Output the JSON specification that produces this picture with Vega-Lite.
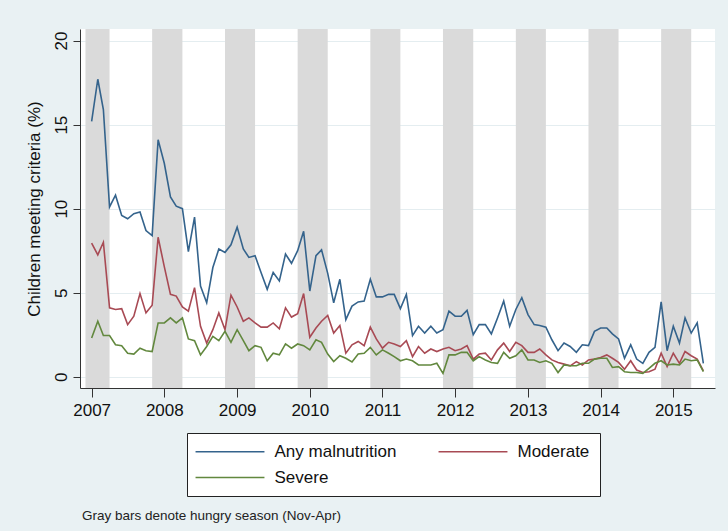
{
  "$schema": "https://vega.github.io/schema/vega-lite/v6.json",
  "width": 635,
  "height": 359,
  "autosize": {"type": "none"},
  "padding": {"left": 80, "top": 29, "right": 13, "bottom": 143},
  "background": "#e9f1f3",
  "config": {
    "font": "Liberation Sans",
    "view": {"fill": "white", "stroke": null},
    "axis": {"domainColor": "#333333", "tickColor": "#333333", "labelColor": "#111111", "titleColor": "#111111", "labelFontSize": 17, "titleFontSize": 17, "titleFontWeight": "normal"}
  },
  "title": {"text": "Gray bars denote hungry season (Nov-Apr)", "orient": "bottom", "anchor": "start", "frame": "group", "fontSize": 13.5, "fontWeight": "normal", "color": "#222222", "offset": 12, "dx": 2},
  "datasets": {
    "hungry": [
      {"start": "2006-12-01", "end": "2007-04-01"},
      {"start": "2007-11-01", "end": "2008-04-01"},
      {"start": "2008-11-01", "end": "2009-04-01"},
      {"start": "2009-11-01", "end": "2010-04-01"},
      {"start": "2010-11-01", "end": "2011-04-01"},
      {"start": "2011-11-01", "end": "2012-04-01"},
      {"start": "2012-11-01", "end": "2013-04-01"},
      {"start": "2013-11-01", "end": "2014-04-01"},
      {"start": "2014-11-01", "end": "2015-04-01"}
    ],
    "series": [
      {"month": "2007-01-01", "Any malnutrition": 15.2, "Moderate": 7.95, "Severe": 2.3},
      {"month": "2007-02-01", "Any malnutrition": 17.7, "Moderate": 7.25, "Severe": 3.3},
      {"month": "2007-03-01", "Any malnutrition": 15.9, "Moderate": 8.0, "Severe": 2.45},
      {"month": "2007-04-01", "Any malnutrition": 10.1, "Moderate": 4.1, "Severe": 2.45},
      {"month": "2007-05-01", "Any malnutrition": 10.8, "Moderate": 4.0, "Severe": 1.9},
      {"month": "2007-06-01", "Any malnutrition": 9.6, "Moderate": 4.05, "Severe": 1.85},
      {"month": "2007-07-01", "Any malnutrition": 9.4, "Moderate": 3.1, "Severe": 1.4},
      {"month": "2007-08-01", "Any malnutrition": 9.7, "Moderate": 3.6, "Severe": 1.35},
      {"month": "2007-09-01", "Any malnutrition": 9.8, "Moderate": 4.95, "Severe": 1.7},
      {"month": "2007-10-01", "Any malnutrition": 8.7, "Moderate": 3.8, "Severe": 1.55},
      {"month": "2007-11-01", "Any malnutrition": 8.4, "Moderate": 4.25, "Severe": 1.5},
      {"month": "2007-12-01", "Any malnutrition": 14.1, "Moderate": 8.3, "Severe": 3.2},
      {"month": "2008-01-01", "Any malnutrition": 12.7, "Moderate": 6.55, "Severe": 3.2},
      {"month": "2008-02-01", "Any malnutrition": 10.7, "Moderate": 4.9, "Severe": 3.5},
      {"month": "2008-03-01", "Any malnutrition": 10.15, "Moderate": 4.8, "Severe": 3.2},
      {"month": "2008-04-01", "Any malnutrition": 10.0, "Moderate": 4.15, "Severe": 3.5},
      {"month": "2008-05-01", "Any malnutrition": 7.45, "Moderate": 3.9, "Severe": 2.25},
      {"month": "2008-06-01", "Any malnutrition": 9.5, "Moderate": 5.3, "Severe": 2.15},
      {"month": "2008-07-01", "Any malnutrition": 5.4, "Moderate": 3.0, "Severe": 1.3},
      {"month": "2008-08-01", "Any malnutrition": 4.4, "Moderate": 2.0, "Severe": 1.8},
      {"month": "2008-09-01", "Any malnutrition": 6.5, "Moderate": 2.8, "Severe": 2.4},
      {"month": "2008-10-01", "Any malnutrition": 7.6, "Moderate": 3.8, "Severe": 2.15},
      {"month": "2008-11-01", "Any malnutrition": 7.4, "Moderate": 2.8, "Severe": 2.7},
      {"month": "2008-12-01", "Any malnutrition": 7.85, "Moderate": 4.85, "Severe": 2.05},
      {"month": "2009-01-01", "Any malnutrition": 8.9, "Moderate": 4.15, "Severe": 2.8},
      {"month": "2009-02-01", "Any malnutrition": 7.6, "Moderate": 3.3, "Severe": 2.15},
      {"month": "2009-03-01", "Any malnutrition": 7.1, "Moderate": 3.5, "Severe": 1.55},
      {"month": "2009-04-01", "Any malnutrition": 7.2, "Moderate": 3.2, "Severe": 1.85},
      {"month": "2009-05-01", "Any malnutrition": 6.2, "Moderate": 2.95, "Severe": 1.75},
      {"month": "2009-06-01", "Any malnutrition": 5.2, "Moderate": 2.95, "Severe": 0.95},
      {"month": "2009-07-01", "Any malnutrition": 6.2, "Moderate": 3.2, "Severe": 1.4},
      {"month": "2009-08-01", "Any malnutrition": 5.7, "Moderate": 2.85, "Severe": 1.3},
      {"month": "2009-09-01", "Any malnutrition": 7.3, "Moderate": 4.1, "Severe": 1.95},
      {"month": "2009-10-01", "Any malnutrition": 6.75, "Moderate": 3.55, "Severe": 1.7},
      {"month": "2009-11-01", "Any malnutrition": 7.5, "Moderate": 3.75, "Severe": 1.95},
      {"month": "2009-12-01", "Any malnutrition": 8.65, "Moderate": 4.95, "Severe": 1.85},
      {"month": "2010-01-01", "Any malnutrition": 5.1, "Moderate": 2.35, "Severe": 1.6},
      {"month": "2010-02-01", "Any malnutrition": 7.2, "Moderate": 2.9, "Severe": 2.2},
      {"month": "2010-03-01", "Any malnutrition": 7.55, "Moderate": 3.3, "Severe": 2.05},
      {"month": "2010-04-01", "Any malnutrition": 6.15, "Moderate": 3.65, "Severe": 1.35},
      {"month": "2010-05-01", "Any malnutrition": 4.4, "Moderate": 2.6, "Severe": 0.9},
      {"month": "2010-06-01", "Any malnutrition": 5.8, "Moderate": 3.05, "Severe": 1.25},
      {"month": "2010-07-01", "Any malnutrition": 3.4, "Moderate": 1.4, "Severe": 1.1},
      {"month": "2010-08-01", "Any malnutrition": 4.2, "Moderate": 1.9, "Severe": 0.88},
      {"month": "2010-09-01", "Any malnutrition": 4.45, "Moderate": 2.1, "Severe": 1.35},
      {"month": "2010-10-01", "Any malnutrition": 4.5, "Moderate": 1.85, "Severe": 1.4},
      {"month": "2010-11-01", "Any malnutrition": 5.8, "Moderate": 2.95, "Severe": 1.75},
      {"month": "2010-12-01", "Any malnutrition": 4.75, "Moderate": 2.25, "Severe": 1.3},
      {"month": "2011-01-01", "Any malnutrition": 4.75, "Moderate": 1.7, "Severe": 1.6},
      {"month": "2011-02-01", "Any malnutrition": 4.9, "Moderate": 2.05, "Severe": 1.4},
      {"month": "2011-03-01", "Any malnutrition": 4.9, "Moderate": 1.95, "Severe": 1.2},
      {"month": "2011-04-01", "Any malnutrition": 4.05, "Moderate": 1.8, "Severe": 0.95},
      {"month": "2011-05-01", "Any malnutrition": 4.9, "Moderate": 2.15, "Severe": 1.05},
      {"month": "2011-06-01", "Any malnutrition": 2.45, "Moderate": 1.2, "Severe": 0.95},
      {"month": "2011-07-01", "Any malnutrition": 3.0, "Moderate": 1.8, "Severe": 0.7},
      {"month": "2011-08-01", "Any malnutrition": 2.6, "Moderate": 1.4, "Severe": 0.7},
      {"month": "2011-09-01", "Any malnutrition": 3.0, "Moderate": 1.65, "Severe": 0.7},
      {"month": "2011-10-01", "Any malnutrition": 2.6, "Moderate": 1.5, "Severe": 0.8},
      {"month": "2011-11-01", "Any malnutrition": 2.8, "Moderate": 1.65, "Severe": 0.2},
      {"month": "2011-12-01", "Any malnutrition": 3.9, "Moderate": 1.75, "Severe": 1.3},
      {"month": "2012-01-01", "Any malnutrition": 3.6, "Moderate": 1.55, "Severe": 1.3},
      {"month": "2012-02-01", "Any malnutrition": 3.6, "Moderate": 1.65, "Severe": 1.45},
      {"month": "2012-03-01", "Any malnutrition": 3.95, "Moderate": 1.85, "Severe": 1.45},
      {"month": "2012-04-01", "Any malnutrition": 2.5, "Moderate": 1.05, "Severe": 0.95},
      {"month": "2012-05-01", "Any malnutrition": 3.1, "Moderate": 1.35, "Severe": 1.2},
      {"month": "2012-06-01", "Any malnutrition": 3.1, "Moderate": 1.4, "Severe": 1.0},
      {"month": "2012-07-01", "Any malnutrition": 2.55, "Moderate": 1.0, "Severe": 0.85},
      {"month": "2012-08-01", "Any malnutrition": 3.5, "Moderate": 1.6, "Severe": 0.8},
      {"month": "2012-09-01", "Any malnutrition": 4.5, "Moderate": 2.0, "Severe": 1.45},
      {"month": "2012-10-01", "Any malnutrition": 3.0, "Moderate": 1.5, "Severe": 1.1},
      {"month": "2012-11-01", "Any malnutrition": 4.0, "Moderate": 2.05, "Severe": 1.25},
      {"month": "2012-12-01", "Any malnutrition": 4.7, "Moderate": 1.85, "Severe": 1.6},
      {"month": "2013-01-01", "Any malnutrition": 3.7, "Moderate": 1.45, "Severe": 1.0},
      {"month": "2013-02-01", "Any malnutrition": 3.1, "Moderate": 1.45, "Severe": 1.0},
      {"month": "2013-03-01", "Any malnutrition": 3.05, "Moderate": 1.65, "Severe": 0.85},
      {"month": "2013-04-01", "Any malnutrition": 2.95, "Moderate": 1.3, "Severe": 0.95},
      {"month": "2013-05-01", "Any malnutrition": 2.2, "Moderate": 1.0, "Severe": 0.8},
      {"month": "2013-06-01", "Any malnutrition": 1.55, "Moderate": 0.85, "Severe": 0.25},
      {"month": "2013-07-01", "Any malnutrition": 2.0, "Moderate": 0.75, "Severe": 0.7},
      {"month": "2013-08-01", "Any malnutrition": 1.8, "Moderate": 0.65, "Severe": 0.65},
      {"month": "2013-09-01", "Any malnutrition": 1.45, "Moderate": 0.9, "Severe": 0.65},
      {"month": "2013-10-01", "Any malnutrition": 1.9, "Moderate": 0.7, "Severe": 0.8},
      {"month": "2013-11-01", "Any malnutrition": 1.85, "Moderate": 1.0, "Severe": 0.8},
      {"month": "2013-12-01", "Any malnutrition": 2.7, "Moderate": 1.05, "Severe": 1.05},
      {"month": "2014-01-01", "Any malnutrition": 2.9, "Moderate": 1.15, "Severe": 1.1},
      {"month": "2014-02-01", "Any malnutrition": 2.9, "Moderate": 1.3, "Severe": 1.1},
      {"month": "2014-03-01", "Any malnutrition": 2.55, "Moderate": 1.1, "Severe": 0.55},
      {"month": "2014-04-01", "Any malnutrition": 2.25, "Moderate": 0.85, "Severe": 0.6},
      {"month": "2014-05-01", "Any malnutrition": 1.1, "Moderate": 0.45, "Severe": 0.3},
      {"month": "2014-06-01", "Any malnutrition": 1.9, "Moderate": 0.95, "Severe": 0.25},
      {"month": "2014-07-01", "Any malnutrition": 1.05, "Moderate": 0.4, "Severe": 0.25},
      {"month": "2014-08-01", "Any malnutrition": 0.8, "Moderate": 0.25, "Severe": 0.2},
      {"month": "2014-09-01", "Any malnutrition": 1.45, "Moderate": 0.3, "Severe": 0.5},
      {"month": "2014-10-01", "Any malnutrition": 1.75, "Moderate": 0.45, "Severe": 0.8},
      {"month": "2014-11-01", "Any malnutrition": 4.45, "Moderate": 1.4, "Severe": 0.95},
      {"month": "2014-12-01", "Any malnutrition": 1.55, "Moderate": 0.6, "Severe": 0.7},
      {"month": "2015-01-01", "Any malnutrition": 3.0, "Moderate": 1.4, "Severe": 0.75},
      {"month": "2015-02-01", "Any malnutrition": 2.0, "Moderate": 0.8, "Severe": 0.7},
      {"month": "2015-03-01", "Any malnutrition": 3.5, "Moderate": 1.5, "Severe": 1.05},
      {"month": "2015-04-01", "Any malnutrition": 2.6, "Moderate": 1.25, "Severe": 0.95},
      {"month": "2015-05-01", "Any malnutrition": 3.2, "Moderate": 1.05, "Severe": 1.0},
      {"month": "2015-06-01", "Any malnutrition": 0.8, "Moderate": 0.35, "Severe": 0.3}
    ]
  },
  "layer": [
    {
      "data": {"name": "hungry"},
      "mark": {"type": "rect", "color": "#dadada"},
      "encoding": {
        "x": {"field": "start", "type": "temporal", "title": null,
              "scale": {"type": "utc", "domain": [{"year": 2006, "month": 11, "date": 3, "hours": 14, "utc": true}, {"year": 2015, "month": 7, "date": 29, "hours": 12, "utc": true}]}},
        "x2": {"field": "end"}
      }
    },
    {
      "data": {"name": "series"},
      "transform": [{"fold": ["Any malnutrition", "Moderate", "Severe"], "as": ["series", "pct"]}],
      "mark": {"type": "line", "strokeWidth": 1.6},
      "encoding": {
        "x": {"field": "month", "type": "temporal", "title": null,
              "scale": {"type": "utc", "domain": [{"year": 2006, "month": 11, "date": 3, "hours": 14, "utc": true}, {"year": 2015, "month": 7, "date": 29, "hours": 12, "utc": true}]},
              "axis": {"tickCount": {"interval": "year", "step": 1}, "format": "%Y", "grid": false, "tickSize": 9, "labelPadding": 5, "title": null}},
        "y": {"field": "pct", "type": "quantitative",
              "scale": {"domain": [-0.67, 20.69], "nice": false, "zero": false},
              "axis": {"values": [0, 5, 10, 15, 20], "title": "Children meeting criteria (%)", "grid": true, "gridColor": "#e4edf0", "tickSize": 7, "labelAngle": 270, "labelAlign": "center", "labelBaseline": "alphabetic", "labelPadding": 7, "titlePadding": 9}},
        "color": {"field": "series", "type": "nominal",
                  "scale": {"domain": ["Any malnutrition", "Moderate", "Severe"], "range": ["#34638c", "#a84a54", "#62883e"]},
                  "legend": {"orient": "none", "legendX": 107, "legendY": 404, "direction": "horizontal", "columns": 2, "title": null,
                             "symbolType": "M-5,0H5", "symbolSize": 190, "symbolStrokeWidth": 1.5,
                             "symbolOffset": 24.5, "labelOffset": 36, "labelFontSize": 17, "labelColor": "#111111", "labelLimit": 400,
                             "padding": 10, "rowPadding": 8, "columnPadding": 38, "strokeColor": "#222222", "fillColor": "white"}}
      }
    }
  ]
}
